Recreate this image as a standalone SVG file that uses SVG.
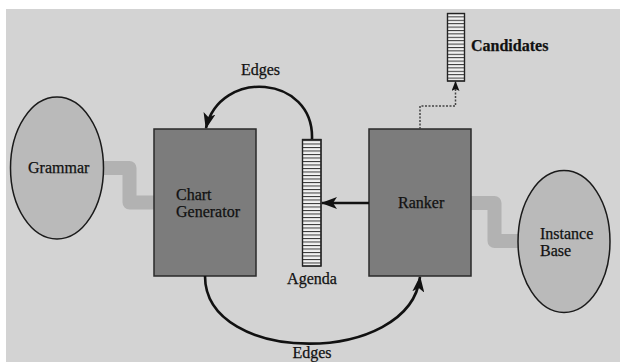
<svg xmlns="http://www.w3.org/2000/svg" width="620" height="362" viewBox="0 0 620 362">
  <defs>
    <style>
      .label { font-family: "Liberation Serif", "Times New Roman", serif; font-size: 16px; fill: #111; stroke: #111; stroke-width: 0.25; }
      .box { fill: #7c7c7c; stroke: #2a2a2a; stroke-width: 1.5; }
      .oval { fill: #bababa; stroke: #1a1a1a; stroke-width: 1.5; }
      .band { fill: none; stroke: #b2b2b2; stroke-width: 14; stroke-linejoin: round; }
      .flow { fill: none; stroke: #111; stroke-width: 2.6; }
      .dots { fill: none; stroke: #444; stroke-width: 1.5; stroke-dasharray: 2 1.5; }
      .queue { fill: #f2f2f2; stroke: #222; stroke-width: 1.2; }
      .slot { stroke: #333; stroke-width: 1; }
    </style>
    <marker id="head" viewBox="0 0 16 12" refX="15" refY="6" markerWidth="16" markerHeight="12" markerUnits="userSpaceOnUse" orient="auto">
      <path d="M0,0 L16,6 L0,12 L4,6 z" fill="#111"/>
    </marker>
    <marker id="headSmall" viewBox="0 0 10 8" refX="9" refY="4" markerWidth="10" markerHeight="8" markerUnits="userSpaceOnUse" orient="auto">
      <path d="M0,0 L10,4 L0,8 L2,4 z" fill="#111"/>
    </marker>
    <pattern id="slots" x="0" y="0" width="20" height="3.5" patternUnits="userSpaceOnUse">
      <line x1="0" y1="0.5" x2="20" y2="0.5" class="slot"/>
    </pattern>
    <pattern id="slotsC" x="0" y="13" width="20" height="3.4" patternUnits="userSpaceOnUse">
      <line x1="0" y1="0.5" x2="20" y2="0.5" class="slot"/>
    </pattern>
  </defs>

  <!-- panel -->
  <rect x="0" y="0" width="620" height="362" fill="#ffffff"/>
  <rect x="6" y="9" width="614" height="353" fill="#d3d3d3"/>

  <!-- resource links (thick grey bands) -->
  <g id="links">
    <path class="band" d="M 100 168 H 129.5 V 202.5 H 156"/>
    <path class="band" d="M 470 203 H 494.5 V 241 H 520"/>
  </g>

  <g id="grammar">
    <ellipse class="oval" cx="57" cy="168" rx="46.5" ry="71"/>
    <text class="label" x="28" y="173">Grammar</text>
  </g>

  <g id="chart-generator">
    <rect class="box" x="154" y="129" width="102" height="147"/>
    <text class="label" x="176" y="200">Chart</text>
    <text class="label" x="176" y="217">Generator</text>
  </g>

  <g id="agenda">
    <rect class="queue" x="302.5" y="139.5" width="18.5" height="126.5"/>
    <rect x="302.5" y="139.5" width="18.5" height="126.5" fill="url(#slots)"/>
    <rect x="302.5" y="139.5" width="18.5" height="126.5" fill="none" stroke="#222" stroke-width="1.2"/>
    <text class="label" x="312" y="284" text-anchor="middle">Agenda</text>
  </g>

  <g id="ranker">
    <rect class="box" x="369" y="129" width="102" height="147"/>
    <text class="label" x="398" y="208">Ranker</text>
  </g>

  <g id="instance-base">
    <ellipse class="oval" cx="564" cy="241.5" rx="46" ry="71"/>
    <text class="label" x="540" y="239">Instance</text>
    <text class="label" x="540" y="256">Base</text>
  </g>

  <g id="candidates">
    <rect class="queue" x="447.5" y="13.5" width="17" height="67.5"/>
    <rect x="447.5" y="13.5" width="17" height="67.5" fill="url(#slotsC)"/>
    <rect x="447.5" y="13.5" width="17" height="67.5" fill="none" stroke="#222" stroke-width="1.2"/>
    <text class="label" x="471" y="51" font-weight="bold" font-size="15">Candidates</text>
  </g>

  <!-- connectors -->
  <g id="connectors">
    <path class="flow" d="M 312 139 C 314 75, 220 68, 206 128" marker-end="url(#head)"/>
    <path class="flow" d="M 205 276 C 205 366, 410 366, 420 277" marker-end="url(#head)"/>
    <path class="flow" d="M 369 203 H 322" marker-end="url(#head)"/>
    <path class="dots" d="M 420 129 V 106 H 455.5 V 82" marker-end="url(#headSmall)"/>
  </g>

  <g id="edge-labels">
    <text class="label" x="260.5" y="75" text-anchor="middle">Edges</text>
    <text class="label" x="312" y="358" text-anchor="middle">Edges</text>
  </g>
</svg>
